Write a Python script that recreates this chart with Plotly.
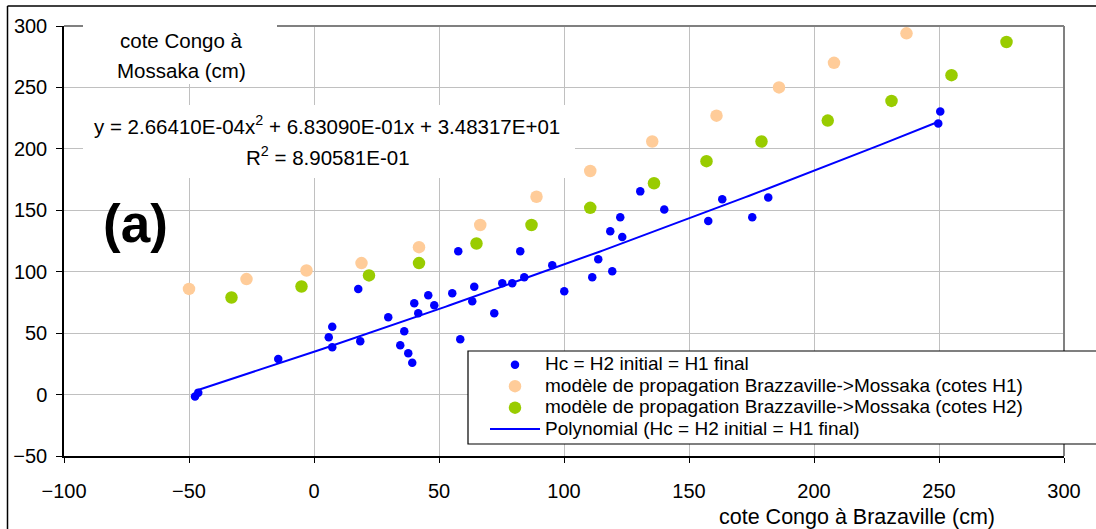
import numpy as np
import plotly.graph_objects as go

# ---------------- data ----------------
hc_x = [-47.6, -46.3, -14.3, 5.9, 7.3, 7.3, 17.7, 18.5, 29.7, 34.5, 36.1, 37.7, 39.3,
        40.1, 41.7, 45.7, 48.1, 55.3, 57.7, 58.5, 63.3, 64.1, 72.1, 75.3, 79.3, 82.5,
        84.1, 95.3, 100.1, 111.3, 113.7, 118.5, 119.3, 122.5, 123.3, 130.5, 140.1,
        157.7, 163.3, 175.3, 181.7, 249.7, 250.5]
hc_y = [-1.5, 1.5, 29, 46.7, 55.2, 38.6, 86, 43.5, 63, 40.2, 51.6, 33.7, 25.9,
        74.4, 66.2, 80.9, 72.7, 82.5, 116.6, 45.1, 76, 87.7, 66.2, 90.6, 90.6, 116.6,
        95.5, 105.2, 84.1, 95.5, 110.1, 132.9, 100.4, 144.3, 128.3, 165.4, 150.7,
        141.2, 159, 144.3, 160.5, 220.6, 230.4]

h1_x = [-50, -27, -3, 19, 42, 66.5, 89, 110.5, 135.3, 161, 186, 208, 237]
h1_y = [86, 94, 101, 107, 120, 138, 161, 182, 206, 227, 250, 270, 294]

h2_x = [-33, -5, 22, 42, 65, 87, 110.5, 136, 157, 179, 205.5, 231, 255, 277]
h2_y = [79, 88, 97, 107, 123, 138, 152, 172, 190, 206, 223, 239, 260, 287]

# polynomial trendline coefficients as printed on the chart (a2, a1, a0)
poly_coef = [2.66410E-04, 6.83090E-01, 3.48317E+01]
r2_value = 8.90581E-01

x_ticks = [-100, -50, 0, 50, 100, 150, 200, 250, 300]
y_ticks = [-50, 0, 50, 100, 150, 200, 250, 300]

names = ["Hc = H2 initial = H1 final",
         "modèle de propagation Brazzaville->Mossaka (cotes H1)",
         "modèle de propagation Brazzaville->Mossaka (cotes H2)",
         "Polynomial (Hc = H2 initial = H1 final)"]

# ---------------- figure ----------------
FONT = "Liberation Sans, Arial, sans-serif"
TXT = 20.5


def big(s, size=19):
    return '<span style="font-size:%spx">%s</span>' % (size, s)


trend_x = np.linspace(min(hc_x), max(hc_x), 200)
trend_y = np.polyval(poly_coef, trend_x)

fig = go.Figure()
fig.add_trace(go.Scatter(x=hc_x, y=hc_y, mode="markers", name=big(names[0]),
                         marker=dict(color="#0000FF", size=8.5)))
fig.add_trace(go.Scatter(x=h1_x, y=h1_y, mode="markers", name=big(names[1]),
                         marker=dict(color="#FFCC99", size=12.5)))
fig.add_trace(go.Scatter(x=h2_x, y=h2_y, mode="markers", name=big(names[2]),
                         marker=dict(color="#99CC00", size=12.5)))
fig.add_trace(go.Scatter(x=trend_x, y=trend_y, mode="lines", name=big(names[3]),
                         line=dict(color="#0000FF", width=2)))

L, R, T, B = 64, 32, 26, 73
W, H = 1096, 529
pw, ph = W - L - R, H - T - B


def px(xp):
    return (xp - L) / pw


def py(yp):
    return (T + ph - yp) / ph


fig.update_layout(
    width=W, height=H,
    margin=dict(l=L, r=R, t=T, b=B, autoexpand=False),
    paper_bgcolor="white", plot_bgcolor="white",
    font=dict(family=FONT, size=TXT, color="black"),
    showlegend=True,
    legend=dict(x=px(485), y=py(349), xanchor="left", yanchor="top",
                bgcolor="rgba(0,0,0,0)", borderwidth=0,
                font=dict(family=FONT, size=14.2, color="black"),
                itemwidth=50, tracegroupgap=0),
)
fig.update_xaxes(range=[-100, 300], tickvals=x_ticks, showgrid=True,
                 gridcolor="#C0C0C0", gridwidth=1, zeroline=False,
                 showline=True, linecolor="black", linewidth=1.5,
                 ticks="outside", ticklen=5, tickcolor="black", tickwidth=1,
                 tickfont=dict(family=FONT, size=20), ticklabelstandoff=11)
fig.update_yaxes(range=[-50, 300], tickvals=y_ticks, showgrid=True,
                 gridcolor="#C0C0C0", gridwidth=1, zeroline=False,
                 showline=True, linecolor="black", linewidth=1.5,
                 ticks="outside", ticklen=6, tickcolor="black", tickwidth=1,
                 tickfont=dict(family=FONT, size=20), ticklabelstandoff=5)

# plot-area border (top & right grey) and outer chart border (left & top black)
fig.add_shape(type="line", xref="paper", yref="paper", x0=0, x1=1, y0=1, y1=1,
              line=dict(color="#808080", width=2), layer="above")
fig.add_shape(type="line", xref="paper", yref="paper", x0=1, x1=1, y0=0, y1=1,
              line=dict(color="#808080", width=2), layer="above")
fig.add_shape(type="line", xref="paper", yref="paper", x0=px(7.5), x1=px(1100),
              y0=py(6), y1=py(6), line=dict(color="black", width=1.5), layer="above")
fig.add_shape(type="line", xref="paper", yref="paper", x0=px(7.5), x1=px(7.5),
              y0=py(6), y1=py(540), line=dict(color="black", width=1.5), layer="above")

# white label boxes (hide gridlines behind the texts) and legend frame
fig.add_shape(type="rect", xref="paper", yref="paper", x0=px(83), x1=px(277),
              y0=py(84), y1=py(25), fillcolor="white", line=dict(width=0), layer="above")
fig.add_shape(type="rect", xref="paper", yref="paper", x0=px(83), x1=px(575),
              y0=py(178), y1=py(105), fillcolor="white", line=dict(width=0), layer="above")
fig.add_shape(type="rect", xref="paper", yref="paper", x0=px(468), x1=px(1110),
              y0=py(444), y1=py(351), fillcolor="white",
              line=dict(color="black", width=1.2), layer="above")

# y axis title
fig.add_annotation(xref="paper", yref="paper", x=px(181), y=py(40),
                   text="cote Congo à", showarrow=False,
                   font=dict(family=FONT, size=TXT), xanchor="center", yanchor="middle")
fig.add_annotation(xref="paper", yref="paper", x=px(181), y=py(70),
                   text="Mossaka (cm)", showarrow=False,
                   font=dict(family=FONT, size=TXT), xanchor="center", yanchor="middle")

# equation
eq_text = ("y = %.5fE-04x<sup>2</sup> + %.5fE-01x + %.5fE+01"
           % (poly_coef[0] * 1e4, poly_coef[1] * 10, poly_coef[2] / 10))
r2_text = "R<sup>2</sup> = %.5fE-01" % (r2_value * 10)
fig.add_annotation(xref="paper", yref="paper", x=px(326.5), y=py(125),
                   text=eq_text, showarrow=False,
                   font=dict(family=FONT, size=TXT), xanchor="center", yanchor="middle")
fig.add_annotation(xref="paper", yref="paper", x=px(327.5), y=py(156),
                   text=r2_text, showarrow=False,
                   font=dict(family=FONT, size=TXT), xanchor="center", yanchor="middle")

# (a) label
fig.add_annotation(xref="paper", yref="paper", x=px(135), y=py(224),
                   text="<b>(a)</b>", showarrow=False,
                   font=dict(family=FONT, size=53), xanchor="center", yanchor="middle")

# x axis title
fig.add_annotation(xref="paper", yref="paper", x=px(857), y=py(517),
                   text="cote Congo à Brazaville (cm)", showarrow=False,
                   font=dict(family=FONT, size=21.5), xanchor="center", yanchor="middle")

fig.write_html("out.html")
